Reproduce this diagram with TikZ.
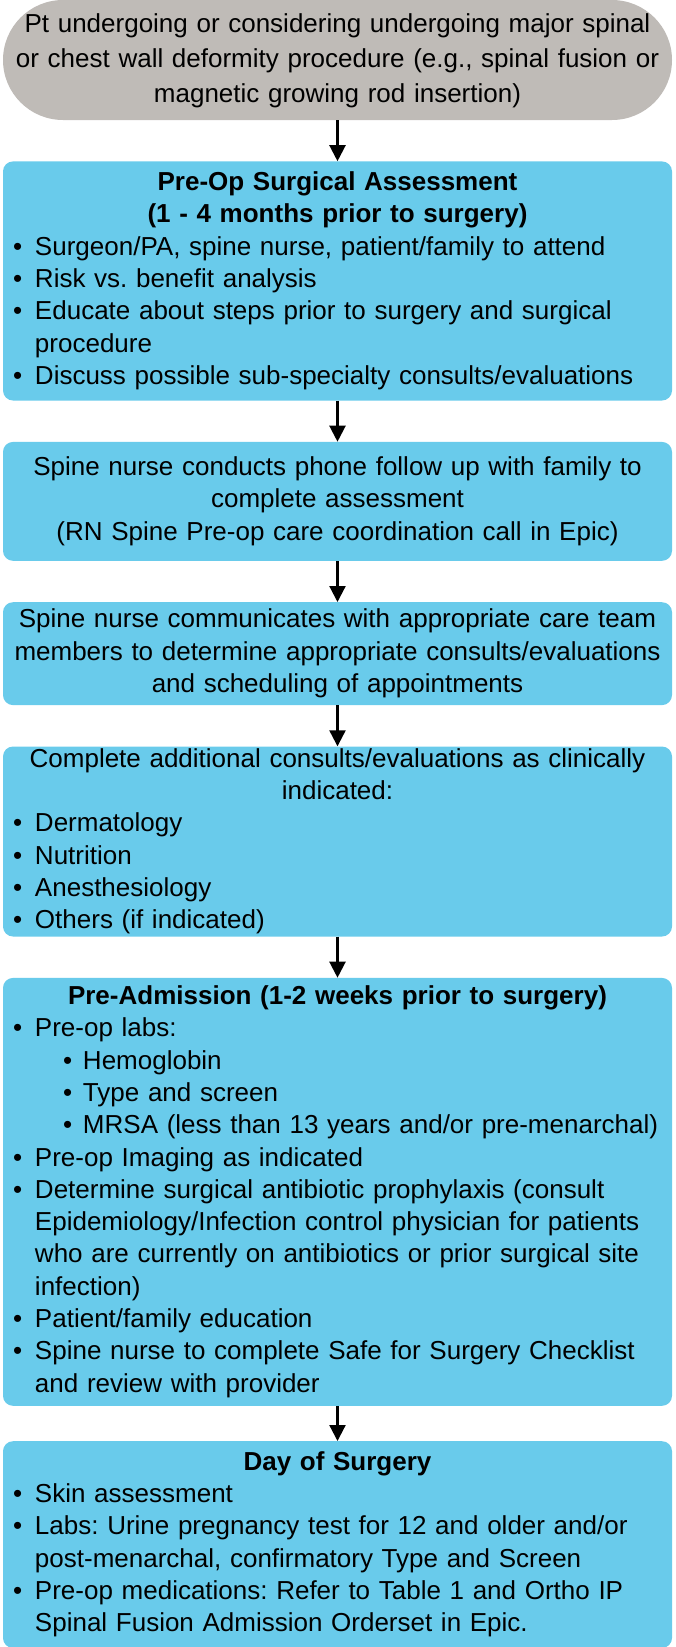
\documentclass[tikz,border=0pt]{standalone}
\usepackage{fontspec}
\setmainfont{Liberation Sans}
\usetikzlibrary{positioning,arrows.meta}
\definecolor{startGrey}{RGB}{191,187,183}
\definecolor{stepBlue}{RGB}{105,203,235}

% text helpers for the boxes
\newcommand{\hd}[1]{{\centering\bfseries\noindent\strut#1\strut\par}}
\newcommand{\ctext}[1]{{\centering\noindent\strut#1\strut\par}}
\newcommand{\bitem}[1]{{\raggedright\hangindent=28pt\hangafter=1\noindent\hspace*{6pt}\makebox[22pt][l]{\textbullet}\strut#1\strut\par}}
\newcommand{\sitem}[1]{{\raggedright\noindent\hspace*{56pt}\makebox[20pt][l]{\textbullet}\strut\mbox{#1}\strut\par}}

\begin{document}
\begin{tikzpicture}[
    node distance=41pt,
    every node/.style={font=\fontsize{26}{32.3}\selectfont\frenchspacing},
    startbox/.style={fill=startGrey, rounded corners=60pt, text width=661pt,
      inner xsep=4pt, inner ysep=7.5pt, align=center,
      font=\fontsize{26}{35}\selectfont},
    stepbox/.style={fill=stepBlue, rounded corners=10pt, text width=661pt,
      inner xsep=4pt, inner ysep=6.5pt},
    flow/.style={-{Triangle[width=16pt,length=16pt]}, line width=2.2pt}
  ]
  \useasboundingbox (0,0) rectangle (675pt,-1647pt);

  % patient enters the pathway
  \node[startbox] (start) at (337.5pt,-60pt)
    {\strut Pt undergoing or considering undergoing major spinal\\
     or chest wall deformity procedure (e.g., spinal fusion or\\
     magnetic growing rod insertion)\strut};

  % surgical assessment
  \node[stepbox, below=of start] (assess) {%
    \hd{Pre-Op Surgical Assessment\\(1 - 4 months prior to surgery)}
    \bitem{Surgeon/PA, spine nurse, patient/family to attend}
    \bitem{Risk vs. benefit analysis}
    \bitem{Educate about steps prior to surgery and surgical\newline procedure}
    \bitem{Discuss possible sub-specialty consults/evaluations}};

  % nurse follow up
  \node[stepbox, inner ysep=11pt, below=of assess] (phone) {%
    \ctext{Spine nurse conducts phone follow up with family to\\
      complete assessment\\
      (RN Spine Pre-op care coordination call in Epic)}};

  \node[stepbox, inner ysep=3pt, below=of phone] (team) {%
    \ctext{Spine nurse communicates with appropriate care team\\
      members to determine appropriate consults/evaluations\\
      and scheduling of appointments}};

  % consults
  \node[stepbox, inner ysep=-1.9pt, below=of team] (consult) {%
    \ctext{Complete additional consults/evaluations as clinically\\indicated:}
    \bitem{Dermatology}
    \bitem{Nutrition}
    \bitem{Anesthesiology}
    \bitem{Others (if indicated)}};

  % pre-admission
  \node[stepbox, inner ysep=4pt, below=of consult] (preadm) {%
    \hd{Pre-Admission (1-2 weeks prior to surgery)}
    \bitem{Pre-op labs:}
    \sitem{Hemoglobin}
    \sitem{Type and screen}
    \sitem{MRSA (less than 13 years and/or pre-menarchal)}
    \bitem{Pre-op Imaging as indicated}
    \bitem{Determine surgical antibiotic prophylaxis (consult\newline
      Epidemiology/Infection control physician for patients\newline
      who are currently on antibiotics or prior surgical site\newline
      infection)}
    \bitem{Patient/family education}
    \bitem{Spine nurse to complete Safe for Surgery Checklist\newline
      and review with provider}};

  % day of surgery
  \node[stepbox, below=35pt of preadm] (dos) {%
    \hd{Day of Surgery}
    \bitem{Skin assessment}
    \bitem{Labs: Urine pregnancy test for 12 and older and/or\newline
      post-menarchal, confirmatory Type and Screen}
    \bitem{Pre-op medications: Refer to Table 1 and Ortho IP\newline
      Spinal Fusion Admission Orderset in Epic.}};

  \draw[flow] (start) -- (assess);
  \draw[flow] (assess) -- (phone);
  \draw[flow] (phone) -- (team);
  \draw[flow] (team) -- (consult);
  \draw[flow] (consult) -- (preadm);
  \draw[flow] (preadm) -- (dos);
\end{tikzpicture}
\end{document}
